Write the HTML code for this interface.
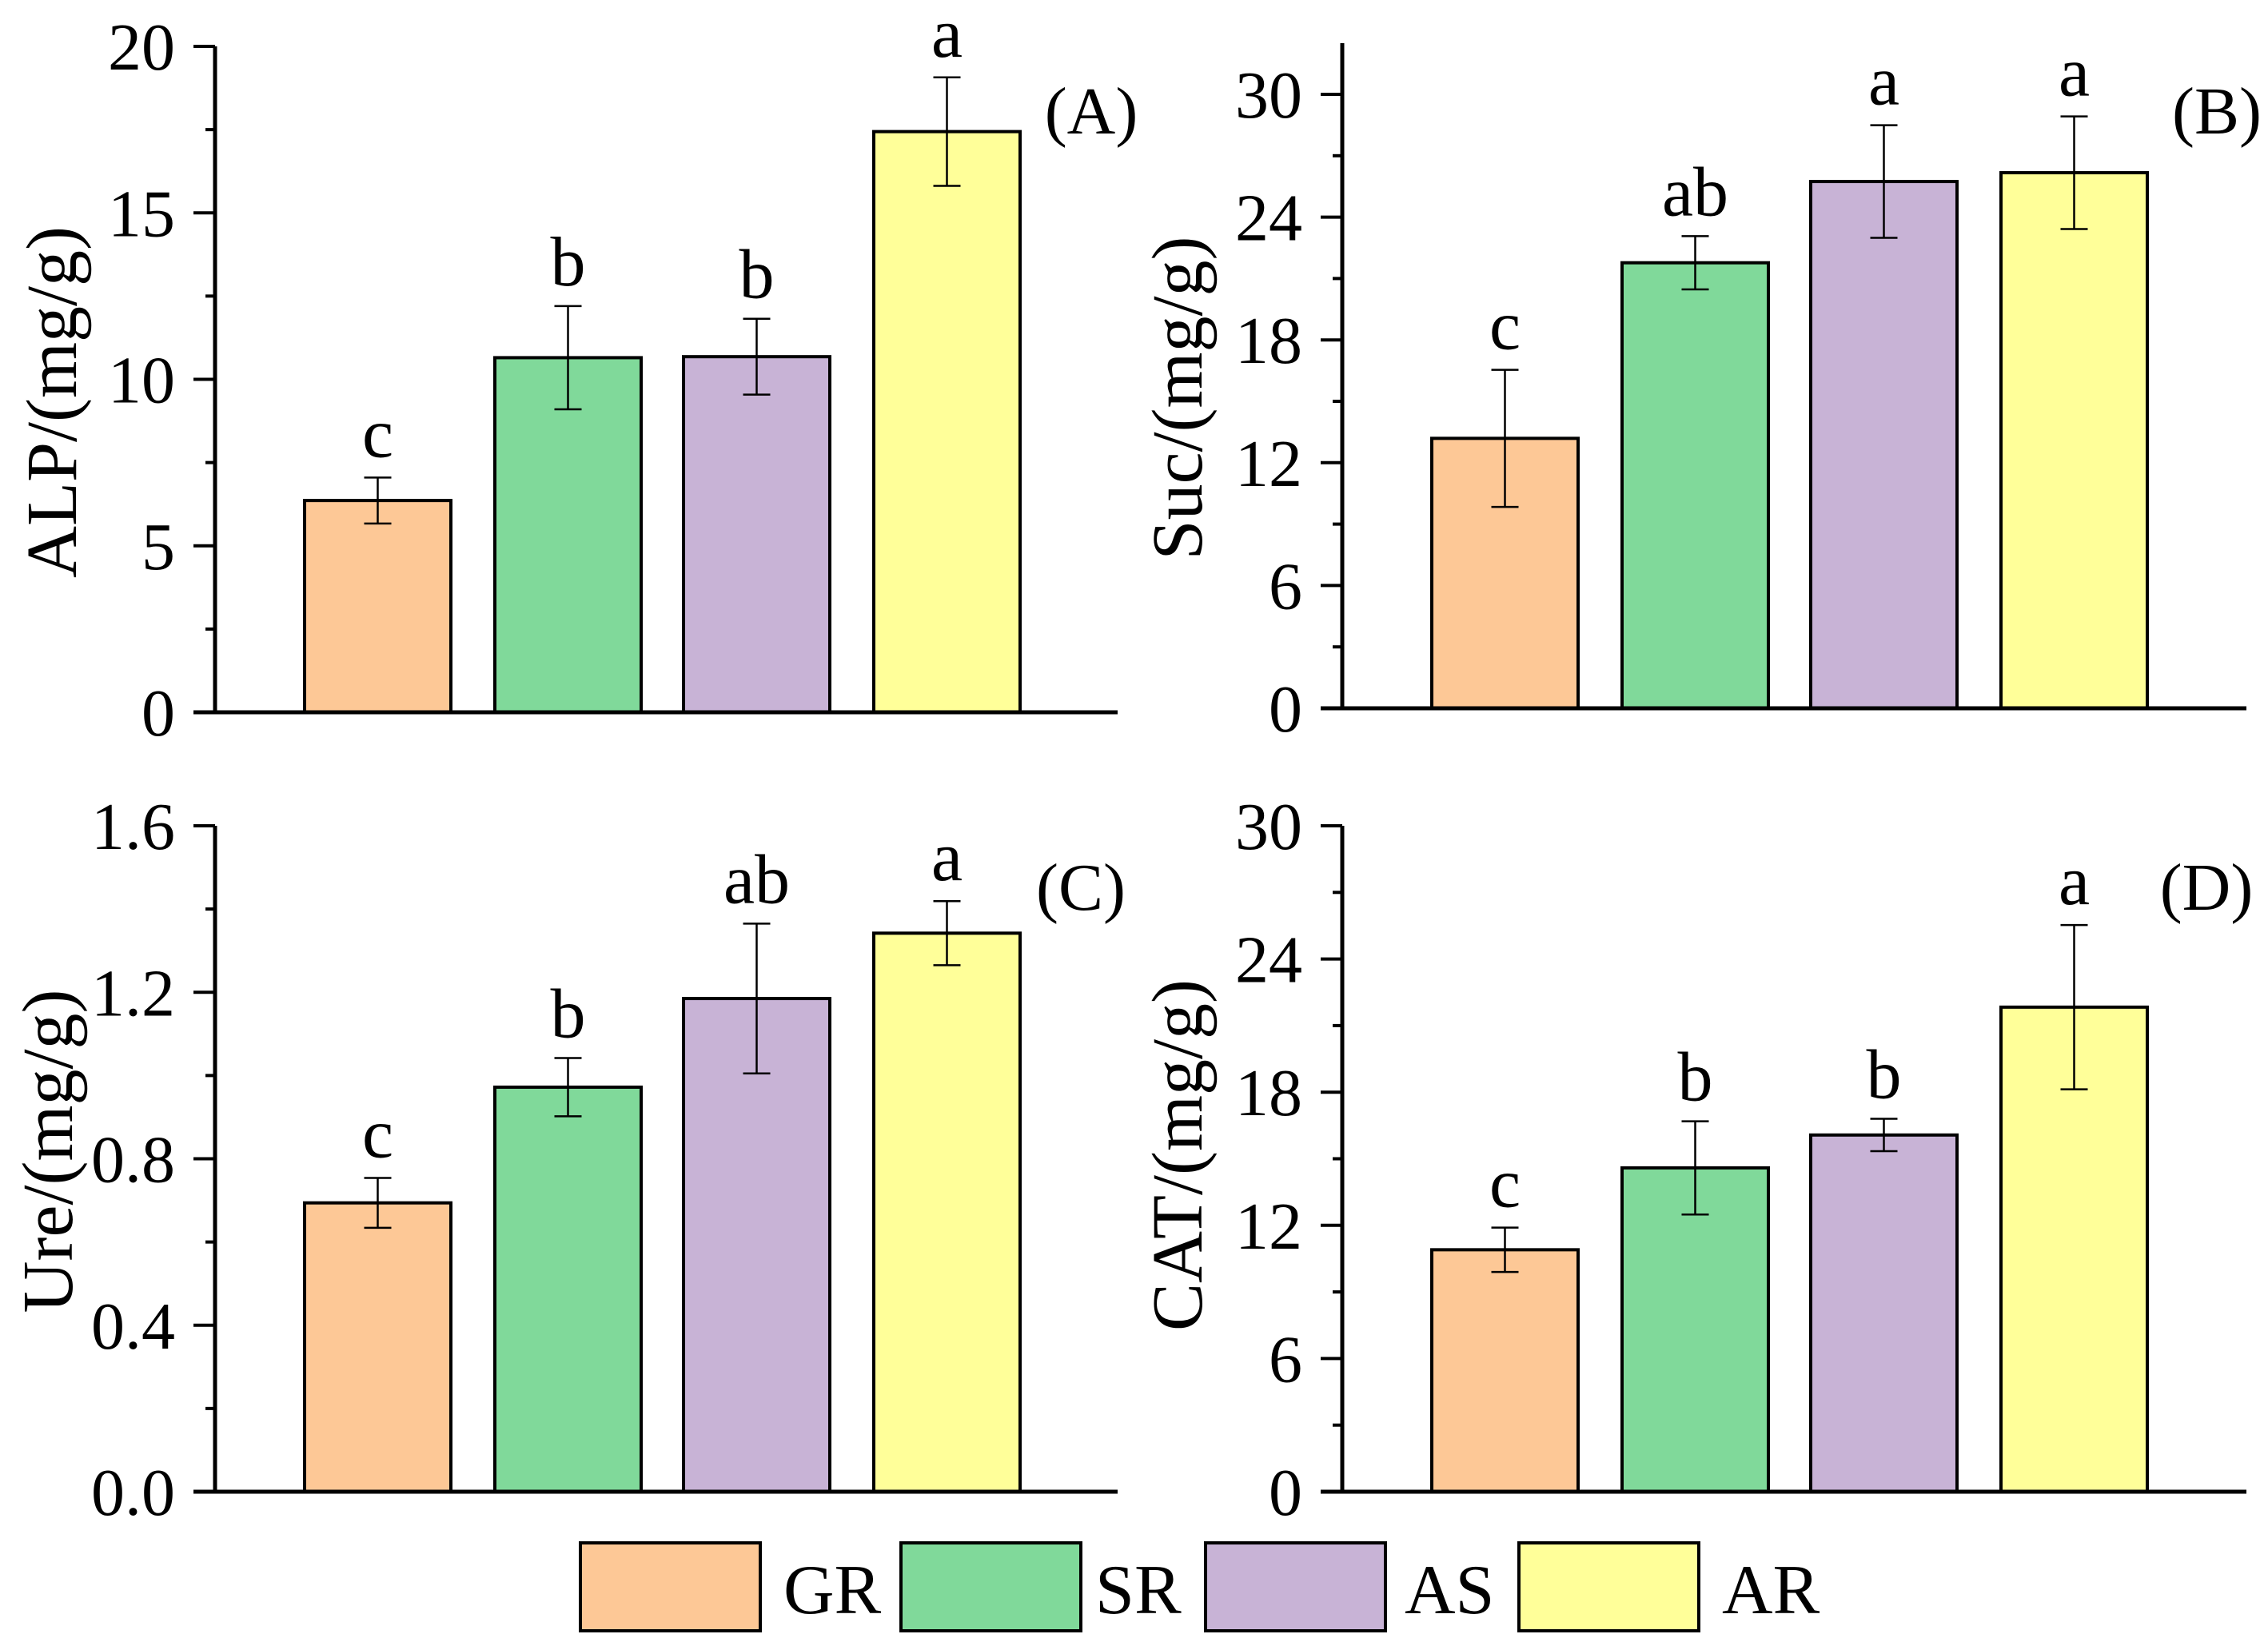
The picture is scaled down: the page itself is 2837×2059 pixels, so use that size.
<!DOCTYPE html>
<html><head><meta charset="utf-8"><style>
html,body{margin:0;padding:0;background:#fff;}
svg{display:block;font-family:"Liberation Serif",serif;}
</style></head><body>
<svg id="fig" width="2837" height="2059" viewBox="0 0 2837 2059" xmlns="http://www.w3.org/2000/svg"></svg>
<script>
const groups = ["GR","SR","AS","AR"];
const colors = ["#FDC896","#80D99A","#C8B3D6","#FFFF99"];
const alpValues = [6.36,10.65,10.68,17.44];
const alpErrors = [0.69,1.55,1.14,1.63];
const alpLetters = ["c","b","b","a"];
const alpTicks = [0,5,10,15,20];
const sucValues = [13.19,21.77,25.74,26.17];
const sucErrors = [3.35,1.3,2.75,2.75];
const sucLetters = ["c","ab","a","a"];
const sucTicks = [0,6,12,18,24,30];
const ureValues = [0.694,0.972,1.185,1.342];
const ureErrors = [0.06,0.07,0.18,0.077];
const ureLetters = ["c","b","ab","a"];
const ureTicks = ["0.0","0.4","0.8","1.2","1.6"];
const catValues = [10.9,14.59,16.07,21.83];
const catErrors = [1.0,2.1,0.73,3.7];
const catLetters = ["c","b","b","a"];
const catTicks = [0,6,12,18,24,30];

const NS="http://www.w3.org/2000/svg";
const svg=document.getElementById('fig');
function mk(tag,attrs,parent){const e=document.createElementNS(NS,tag);for(const k in attrs)e.setAttribute(k,attrs[k]);(parent||svg).appendChild(e);return e;}

const panels=[
 {id:"a",ax:269,y0:891,ymax:58,ytop:58,vmax:20,xend:1398,vals:alpValues,errs:alpErrors,lets:alpLetters,ticks:alpTicks,title:"ALP/(mg/g)",tx:95,ty:503,lab:"(A)",lx:1365,ly:167},
 {id:"b",ax:1679,y0:886,ymax:118,ytop:54,vmax:30,xend:2810,vals:sucValues,errs:sucErrors,lets:sucLetters,ticks:sucTicks,title:"Suc/(mg/g)",tx:1503,ty:498,lab:"(B)",lx:2773,ly:167},
 {id:"c",ax:269,y0:1866,ymax:1033,ytop:1033,vmax:1.6,xend:1398,vals:ureValues,errs:ureErrors,lets:ureLetters,ticks:ureTicks,title:"Ure/(mg/g)",tx:90,ty:1440,lab:"(C)",lx:1352,ly:1138},
 {id:"d",ax:1679,y0:1866,ymax:1033,ytop:1033,vmax:30,xend:2810,vals:catValues,errs:catErrors,lets:catLetters,ticks:catTicks,title:"CAT/(mg/g)",tx:1503,ty:1445,lab:"(D)",lx:2760,ly:1138}
];
const barOff=[112,350,586,824], barW=183;

panels.forEach(p=>{
  const g=mk('g',{});
  
  
  const ys=v=>p.y0-(v/p.vmax)*(p.y0-p.ymax);
  p.vals.forEach((v,i)=>{
    const x=p.ax+barOff[i];
    const r=mk('rect',{x:x,y:ys(v),width:barW,height:p.y0-ys(v),fill:colors[i],stroke:'#000','stroke-width':4},g);
    
    
    const cx=x+barW/2, t=ys(v+p.errs[i]), b=ys(v-p.errs[i]);
    const eb=mk('path',{d:`M${cx},${t}V${b}M${cx-17},${t}H${cx+17}M${cx-17},${b}H${cx+17}`,stroke:'#000','stroke-width':2.5,fill:'none'},g);
    
    
    const lt=mk('text',{x:cx,y:t-26,'font-size':88,'text-anchor':'middle'},g);
    lt.textContent=p.lets[i];
    
    
  });
  const ya=mk('line',{x1:p.ax,y1:p.ytop,x2:p.ax,y2:p.y0+2.5,stroke:'#000','stroke-width':5},g);
  
  
  const xa=mk('line',{x1:p.ax-27,y1:p.y0,x2:p.xend,y2:p.y0,stroke:'#000','stroke-width':5},g);
  
  
  const step=parseFloat(p.ticks[1])-parseFloat(p.ticks[0]);
  p.ticks.forEach((tk,i)=>{
    const v=parseFloat(tk), y=ys(v);
    mk('line',{x1:p.ax-27,y1:y,x2:p.ax,y2:y,stroke:'#000','stroke-width':4},g);
    if(i<p.ticks.length-1){const ym=ys(v+step/2);
      mk('line',{x1:p.ax-12,y1:ym,x2:p.ax,y2:ym,stroke:'#000','stroke-width':4},g);}
    const tl=mk('text',{x:p.ax-50,y:y+29,'font-size':84,'text-anchor':'end'},g);
    tl.textContent=tk;
    
    
  });
  const tt=mk('text',{x:p.tx,y:p.ty,'font-size':90,'text-anchor':'middle',transform:`rotate(-90 ${p.tx} ${p.ty})`},g);
  tt.textContent=p.title;
  
  
  const pl=mk('text',{x:p.lx,y:p.ly,'font-size':84,'text-anchor':'middle'},g);
  pl.textContent=p.lab;
  
  
});

const legBox=[726,1127,1508,1900], legTx=[980,1370,1757,2154];
const lg=mk('g',{});


groups.forEach((gname,i)=>{
  const r=mk('rect',{x:legBox[i],y:1930,width:225,height:110,fill:colors[i],stroke:'#000','stroke-width':4},lg);
  
  
  const t=mk('text',{x:legTx[i],y:2018,'font-size':88},lg);
  t.textContent=gname;
  
  
});
</script>
</body></html>
